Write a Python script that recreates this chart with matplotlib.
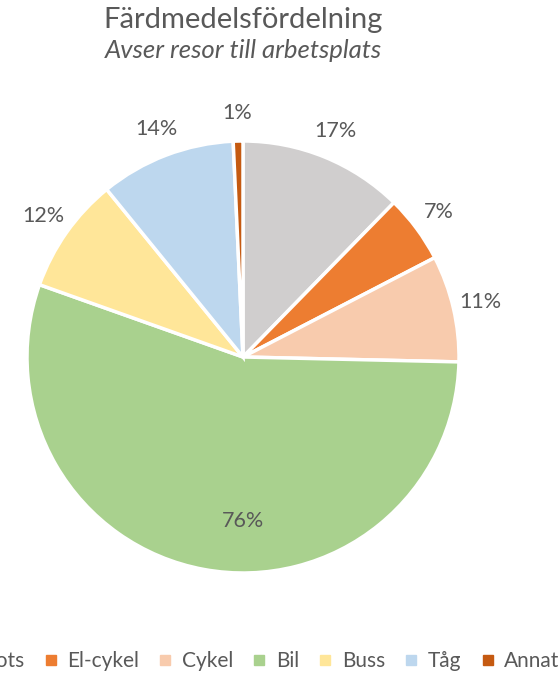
import matplotlib.pyplot as plt
from matplotlib.lines import Line2D

plt.rcParams['font.family'] = ['Lato', 'DejaVu Sans']

categories = ['Till fots', 'El-cykel', 'Cykel', 'Bil', 'Buss', 'Tåg', 'Annat']
values = [17, 7, 11, 76, 12, 14, 1]
colors = ['#D0CECE', '#ED7D31', '#F8CBAD', '#A9D18E', '#FFE699', '#BDD7EE', '#C55A11']
text_color = '#595959'

fig = plt.figure(figsize=(5.6, 6.74), dpi=100)
ax = fig.add_axes([0, 0, 1, 1])

R = 216
cx, cy = 243, 674 - 357
wedges, texts = ax.pie(values, labels=[f'{v}%' for v in values], colors=colors,
                       startangle=90, counterclock=False, radius=R, center=(cx, cy),
                       labeldistance=1.13, frame=True,
                       wedgeprops=dict(edgecolor='white', linewidth=2.5),
                       textprops=dict(color=text_color, fontsize=15.5))
ax.set_xlim(0, 560)
ax.set_ylim(0, 674)
ax.set_aspect('equal')
ax.axis('off')
for t in texts:
    t.set_ha('center')
    t.set_va('center')
# Bil label sits inside its slice
texts[3].set_position((cx, cy - 0.76 * R))

fig.text(243 / 560, 1 - 20 / 674, 'Färdmedelsfördelning', ha='center', va='center',
         fontsize=21, color=text_color)
fig.text(243 / 560, 1 - 51 / 674, 'Avser resor till arbetsplats', ha='center', va='center',
         fontsize=18.5, style='italic', color=text_color)

handles = [Line2D([], [], marker='s', linestyle='', markersize=7.5, color=c) for c in colors]
fig.legend(handles, categories, loc='center right', bbox_to_anchor=(568 / 560, 1 - 661 / 674),
           borderaxespad=0, ncol=7, frameon=False, fontsize=15, handlelength=0.6,
           handletextpad=0.5, columnspacing=0.95, labelcolor=text_color)

fig.savefig('out.png', dpi=100)
